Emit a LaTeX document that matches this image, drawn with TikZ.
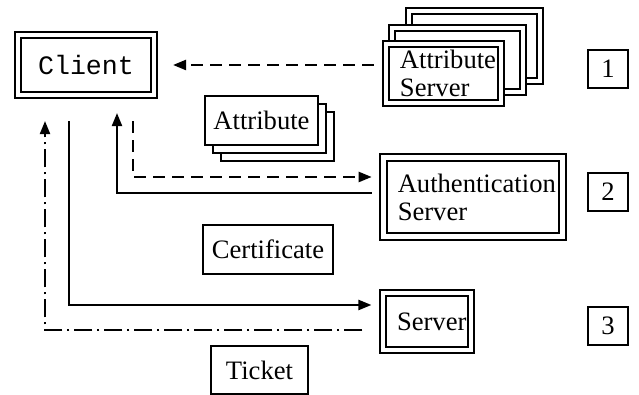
\documentclass[tikz,border=0pt]{standalone}
\usepackage{fontspec}
\setmainfont{Liberation Serif}
\setmonofont{Liberation Mono}
\usetikzlibrary{arrows.meta,calc}

\begin{document}
\begin{tikzpicture}[x=0.5pt, y=-0.5pt,
  font=\fontsize{13.3pt}{14pt}\selectfont,
  frame/.style={draw, double, double distance=2.3pt, line width=1.05pt, fill=white, inner xsep=7pt, inner ysep=0pt, align=left},
  sheet/.style={draw, line width=1.1pt, fill=white, minimum width=56.5pt, minimum height=24.5pt, inner sep=0pt},
  numbox/.style={draw, line width=1.1pt, minimum width=20pt, minimum height=19pt, inner sep=0pt},
  slink/.style={line width=1.1pt, -{Triangle[length=6.5pt,width=5pt]}},
  dlink/.style={slink, dash pattern=on 6pt off 3.5pt},
  dotlink/.style={slink, dash pattern=on 9pt off 2.5pt on 1pt off 2.5pt}]
\useasboundingbox (0,0) rectangle (639,395);

\node[frame, align=center, minimum width=68pt, minimum height=30pt,
  font=\fontsize{13.3pt}{14pt}\selectfont\ttfamily] (client) at (86,65) {Client};

\node[frame, minimum width=65.5pt, minimum height=35pt] (asrv3) at (474.5,46) {};
\node[frame, minimum width=65.5pt, minimum height=32pt] (asrv2) at (457.5,60) {};
\node[frame, text width=43.5pt, minimum height=29.5pt] (asrv) at (443.5,73.5) {Attribute\\Server};

\node[frame, text width=75.25pt, minimum height=39.5pt] (auth) at (473,197) {Authentication\\Server};
\node[frame, text width=30pt, minimum height=28.5pt] (srv) at (427,321.5) {Server};

\node[sheet] (attr3) at (277.5,136.5) {};
\node[sheet] (attr2) at (269.5,128.5) {};
\node[sheet] (attr) at (261.5,120.5) {Attribute};
\node[sheet, minimum width=65pt] (cert) at (268,249.5) {Certificate};
\node[sheet, minimum width=48.5pt, minimum height=24pt] (ticket) at (259.5,370) {Ticket};

\node[numbox] (n1) at (608,69) {1};
\node[numbox] (n2) at (608,192) {2};
\node[numbox] (n3) at (608,326) {3};

\draw[dlink] ($(asrv.west |- client.east)+(-5.5pt,0)$) -- ($(client.east)+(9pt,0)$);
\draw[dlink] ($(client.south)+(23.5pt,-12.5pt)$) |- ($(auth.west)+(-5.5pt,10pt)$);
\draw[slink] ($(auth.west)+(-5.5pt,2pt)$) -| ($(client.south)+(15.5pt,-8.5pt)$);
\draw[slink] ($(client.south)+(-8.5pt,-12.5pt)$) |- ($(srv.west)+(-5.25pt,8.25pt)$);
\draw[dotlink] ($(srv.west)+(-9.75pt,-4.25pt)$) -| ($(client.south)+(-20.5pt,-12.5pt)$);
\end{tikzpicture}
\end{document}
